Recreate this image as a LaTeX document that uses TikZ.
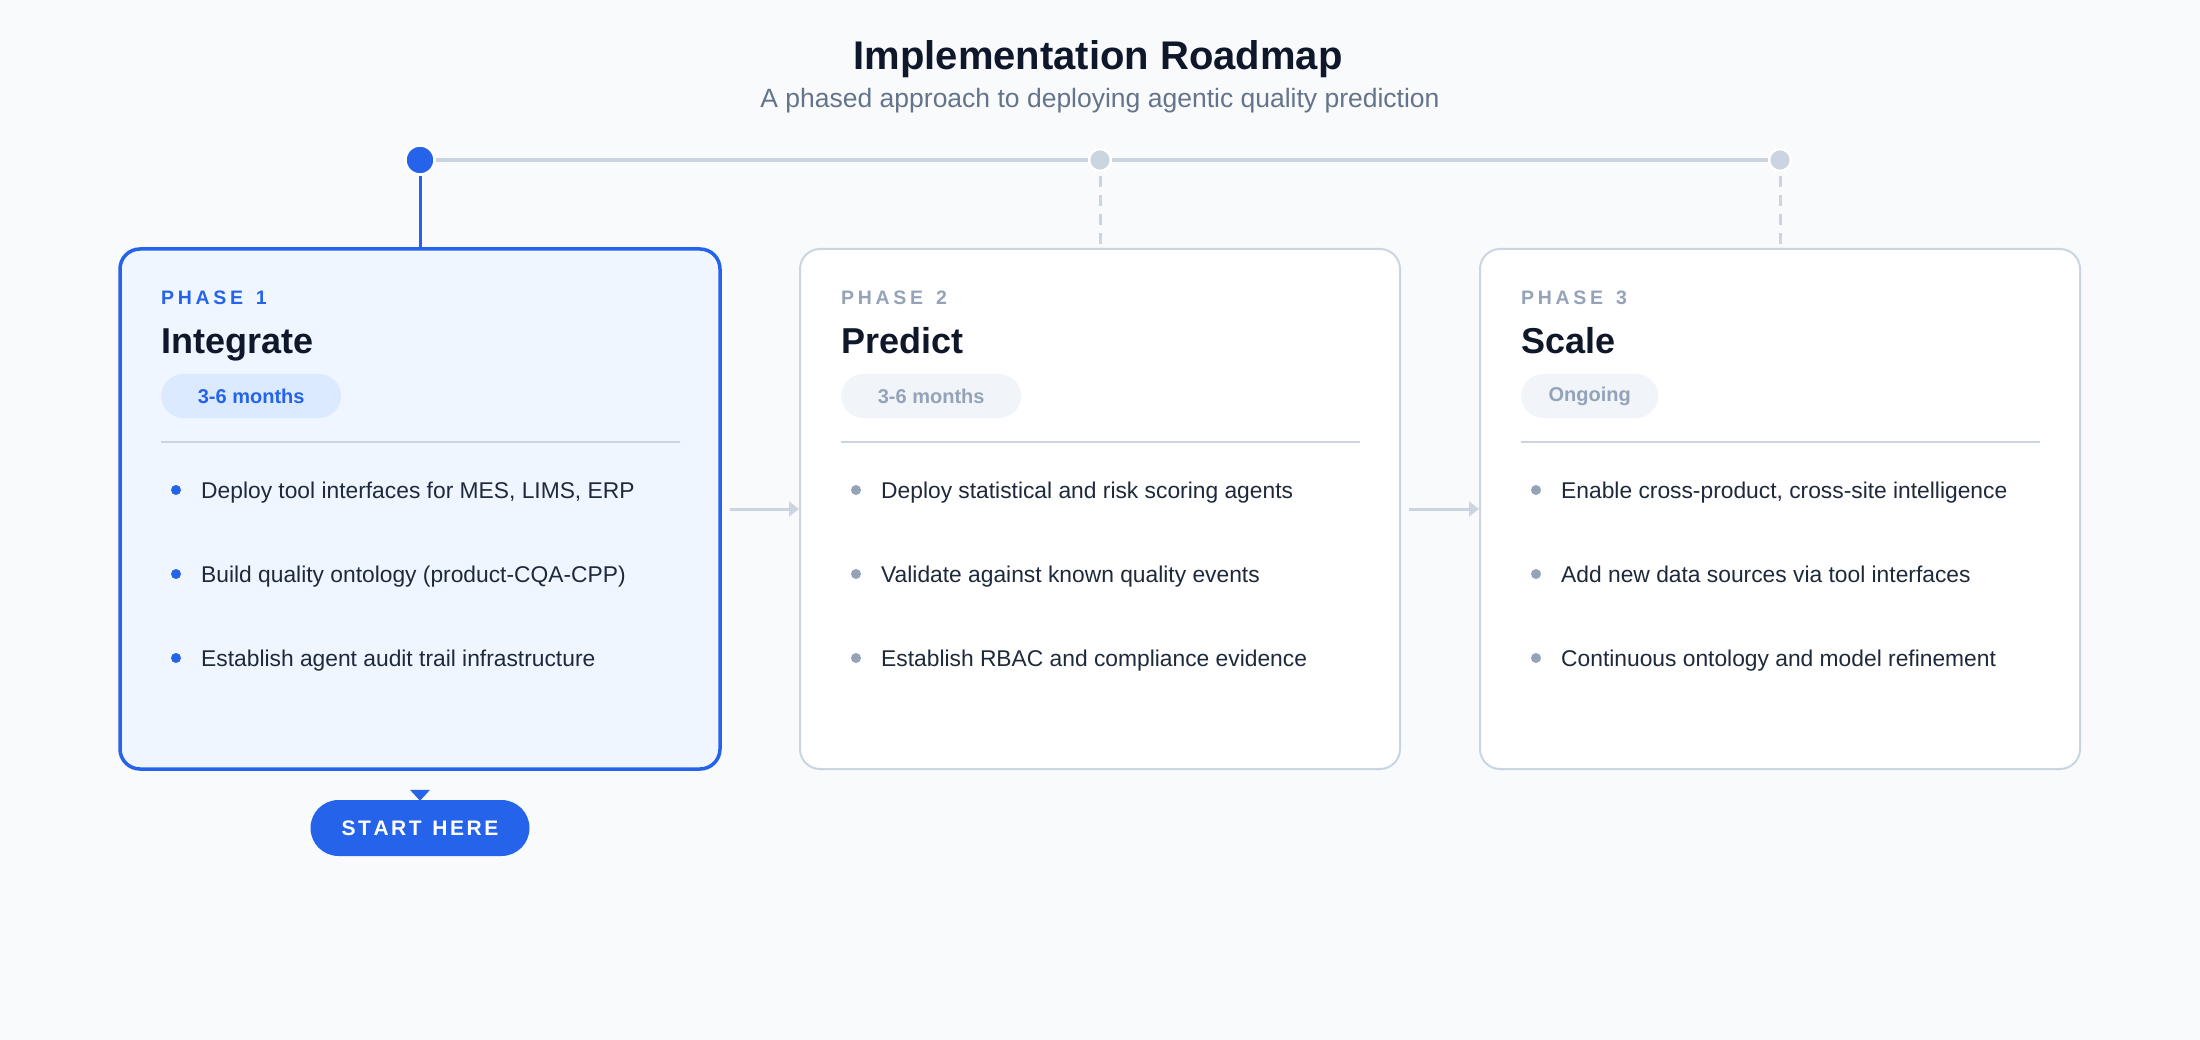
\documentclass[tikz,border=0pt]{standalone}
\usepackage{fontspec}
\setmainfont{Liberation Sans}
\usetikzlibrary{arrows.meta}
\definecolor{pagebg}{HTML}{F8FAFC}
\definecolor{ink}{HTML}{0F172A}
\definecolor{body}{HTML}{1E293B}
\definecolor{muted}{HTML}{64748B}
\definecolor{faint}{HTML}{94A3B8}
\definecolor{rule}{HTML}{CBD5E1}
\definecolor{brand}{HTML}{2563EB}
\definecolor{brandbg}{HTML}{EFF6FF}
\definecolor{brandpill}{HTML}{DBEAFE}
\definecolor{greypill}{HTML}{F1F5F9}
\newcommand{\fs}[1]{\fontsize{#1}{#1}\selectfont}
\newcommand{\lsp}{\kern3.7pt}
\newcommand{\lsq}{\kern2.5pt}
\tikzset{
  cardbase/.style={rectangle, rounded corners=20pt, minimum width=600pt, minimum height=520pt, inner sep=0pt},
  activecard/.style={cardbase, draw=brand, line width=3.5pt, fill=brandbg},
  idlecard/.style={cardbase, draw=rule, line width=2pt, fill=white},
  phaselbl/.style={anchor=base west, inner sep=0pt, font=\bfseries\fs{19.5}},
  phasettl/.style={anchor=base west, inner sep=0pt, text=ink, font=\bfseries\fs{36}},
  pillbase/.style={anchor=west, rectangle, rounded corners=22pt, minimum height=44pt, inner sep=0pt, font=\bfseries\fs{20}},
  activepill/.style={pillbase, fill=brandpill, text=brand},
  idlepill/.style={pillbase, fill=greypill, text=faint},
  divider/.style={draw=rule, line width=2pt},
  itemtxt/.style={anchor=base west, inner sep=0pt, text=body, font=\fs{22.8}},
  tl/.style={draw=rule, line width=4pt},
  flow/.style={draw=rule, line width=3pt, -{Triangle[length=10pt,width=15pt]}},
  bigdot/.style={circle, fill=brand, draw=white, line width=2.5pt, minimum size=29pt, inner sep=0pt},
  smalldot/.style={circle, fill=rule, draw=white, line width=2.5pt, minimum size=22pt, inner sep=0pt},
  startpill/.style={rectangle, rounded corners=28pt, fill=brand, text=white, minimum width=219pt, minimum height=56pt, inner sep=0pt, font=\bfseries\fs{21}}
}
\begin{document}
\begin{tikzpicture}[x=1pt,y=-1pt]
\useasboundingbox (0,0) rectangle (2200,1040);
\fill[pagebg] (0,0) rectangle (2200,1040);

% title
\node[anchor=base, inner sep=0pt, font=\bfseries\fs{40}, text=ink] (title) at (1098,70) {Implementation Roadmap};
\node[anchor=base, inner sep=0pt, font=\fs{26.5}, text=muted] (subtitle) at (1100,108) {A phased approach to deploying agentic quality prediction};

% cards
\node[activecard] (c1) at (420,509) {};
\node[idlecard] (c2) at (1100,509) {};
\node[idlecard] (c3) at (1780,509) {};

% timeline dots
\node[bigdot] (d1) at (420,160) {};
\node[smalldot] (d2) at (1100,160) {};
\node[smalldot] (d3) at (1780,160) {};

\draw[tl] (d1.east) -- (d2.west);
\draw[tl] (d2.east) -- (d3.west);
\draw[draw=brand, line width=3pt] (d1.south) -- (c1.north);
\draw[draw=rule, line width=3pt, dash pattern=on 11pt off 8pt, dash phase=-4pt] (d2.south) -- (c2.north);
\draw[draw=rule, line width=3pt, dash pattern=on 11pt off 8pt, dash phase=-4pt] (d3.south) -- (c3.north);

% flow arrows
\draw[flow] ([xshift=8pt]c1.east) -- (c2.west);
\draw[flow] ([xshift=8pt]c2.east) -- (c3.west);

% card 1
\node[phaselbl, text=brand] (ph1) at (161,305) {P\lsp H\lsp A\lsp S\lsp E\lsp{} \lsp 1};
\node[phasettl] (t1) at (161,354) {Integrate};
\node[activepill, minimum width=180pt] (p1) at (161,396) {3-6 months};
\draw[divider] (161,442) -- (680,442);
\foreach \yy/\txt [count=\i] in {490/{Deploy tool interfaces for MES, LIMS, ERP}, 574/{Build quality ontology (product-CQA-CPP)}, 658/{Establish agent audit trail infrastructure}}{
  \fill[brand] (176,\yy) circle[radius=5pt];
  \node[itemtxt] (a\i) at (201,\yy+8) {\txt};
}

% card 2
\node[phaselbl, text=faint] (ph2) at (841,305) {P\lsp H\lsp A\lsp S\lsp E\lsp{} \lsp 2};
\node[phasettl] (t2) at (841,354) {Predict};
\node[idlepill, minimum width=180pt] (p2) at (841,396) {3-6 months};
\draw[divider] (841,442) -- (1360,442);
\foreach \yy/\txt [count=\i] in {490/{Deploy statistical and risk scoring agents}, 574/{Validate against known quality events}, 658/{Establish RBAC and compliance evidence}}{
  \fill[faint] (856,\yy) circle[radius=5pt];
  \node[itemtxt] (b\i) at (881,\yy+8) {\txt};
}

% card 3
\node[phaselbl, text=faint] (ph3) at (1521,305) {P\lsp H\lsp A\lsp S\lsp E\lsp{} \lsp 3};
\node[phasettl] (t3) at (1521,354) {Scale};
\node[idlepill, minimum width=137pt] (p3) at (1521,396) {Ongoing};
\draw[divider] (1521,442) -- (2040,442);
\foreach \yy/\txt [count=\i] in {490/{Enable cross-product, cross-site intelligence}, 574/{Add new data sources via tool interfaces}, 658/{Continuous ontology and model refinement}}{
  \fill[faint] (1536,\yy) circle[radius=5pt];
  \node[itemtxt] (e\i) at (1561,\yy+8) {\txt};
}

% start here
\node[startpill] (sh) at (420,828) {S\lsq T\lsq A\lsq R\lsq T\lsq{} \lsq H\lsq E\lsq R\lsq E};
\fill[brand] ([xshift=-10pt,yshift=10pt]sh.north) -- ([xshift=10pt,yshift=10pt]sh.north) -- ([yshift=-1pt]sh.north) -- cycle;
\end{tikzpicture}
\end{document}
